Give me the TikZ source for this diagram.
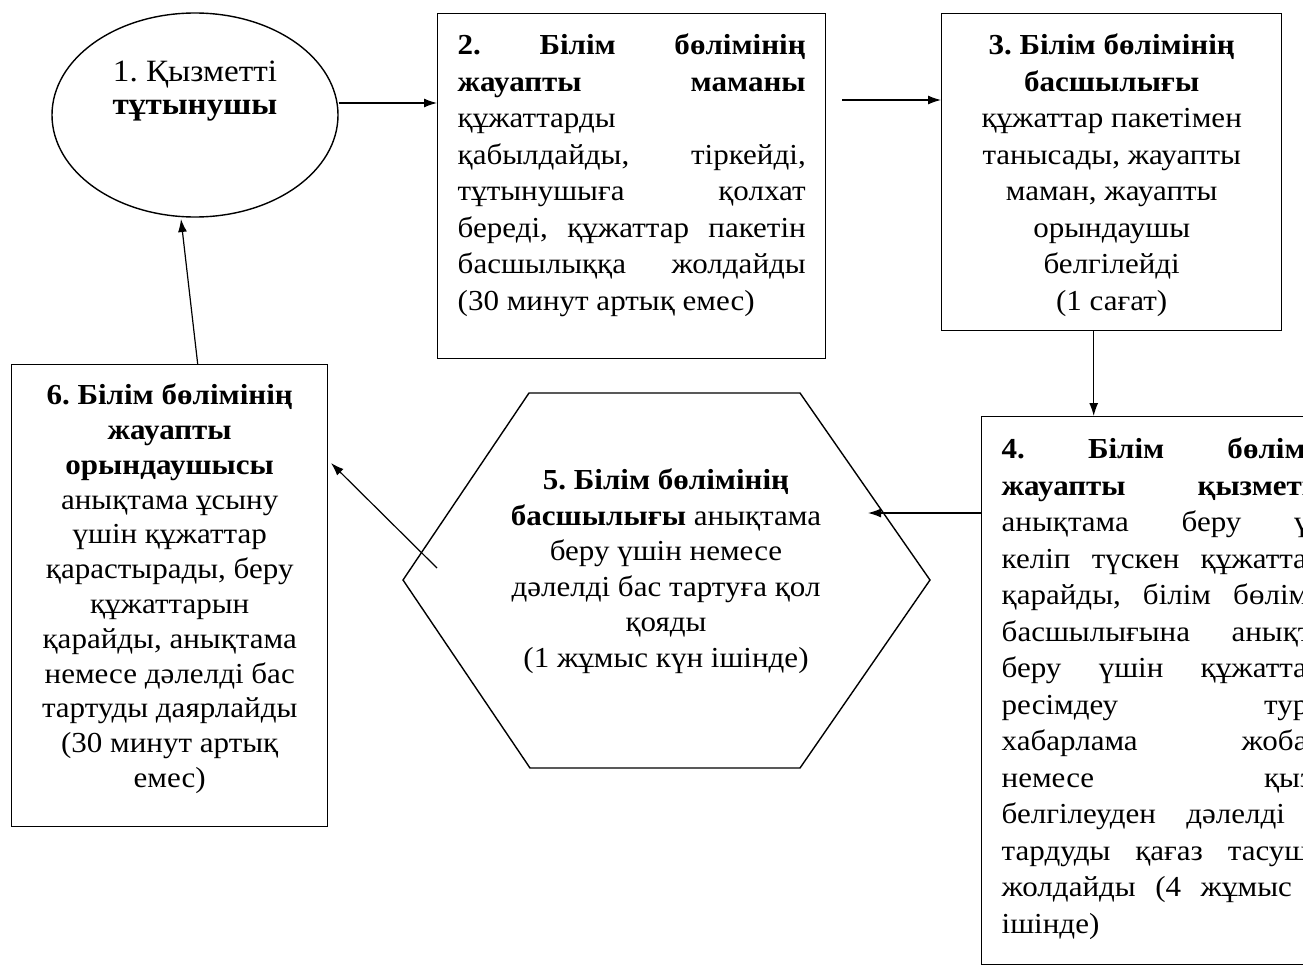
\documentclass[tikz,border=0pt]{standalone}
\usepackage{fontspec}
\setmainfont[FakeStretch=1.07]{Liberation Serif}
\usetikzlibrary{shapes.geometric,arrows.meta}
\frenchspacing
\begin{document}
\begin{tikzpicture}[x=1pt, y=-1pt, >={Latex[length=13pt,width=9pt]}, line width=1.2pt,
    stepbox/.style = {draw, line width=1.4pt, rectangle, anchor=north west, inner xsep=20pt, inner ysep=0pt, font=\fontsize{29}{36.5}\selectfont},
    clientbox/.style = {draw, line width=1.4pt, ellipse, minimum width=286pt, minimum height=204pt}]
        \useasboundingbox (0,0) rectangle (1303,966);
        \node[clientbox] (n1) at (195,115) {};
        \node[align=center, font=\fontsize{31}{33}\selectfont] (n1text) at (195,91) {1. Қызметті\\ \textbf{тұтынушы}};
        \node[stepbox] (n2) at (437,13) {\parbox[c][345pt][t]{348pt}{\rule{0pt}{41pt}\textbf{2. Білім бөлімінің}\linebreak
            \textbf{жауапты маманы}\linebreak құжаттарды\linebreak қабылдайды, тіркейді,\linebreak тұтынушыға қолхат\linebreak
            береді, құжаттар пакетін\linebreak басшылыққа жолдайды\linebreak (30 минут артық емес)}};
        \node[stepbox] (n3) at (941,13) {\parbox[c][317pt][t]{300pt}{\centering\rule{0pt}{41pt}\textbf{3. Білім бөлімінің}\\
            \textbf{басшылығы}\\ құжаттар пакетімен\\ танысады, жауапты\\ маман, жауапты\\ орындаушы\\ белгілейді\\ (1 сағат)}};
        \node[stepbox] (n4) at (981,416) {\parbox[c][548pt][t]{357pt}{\rule{0pt}{42pt}\textbf{4. Білім бөлімінің}\linebreak
            \textbf{жауапты қызметкері}\linebreak анықтама беру үшін\linebreak келіп түскен құжаттарды\linebreak
            қарайды, білім бөлімінің\linebreak басшылығына анықтама\linebreak беру үшін құжаттарды\linebreak
            ресімдеу туралы\linebreak хабарлама жобасын\linebreak немесе қызмет\linebreak белгілеуден дәлелді бас\linebreak
            тардуды қағаз тасушыда\linebreak жолдайды (4 жұмыс күн\linebreak ішінде)}};
        \node[stepbox, font=\fontsize{29}{34.8}\selectfont] (n6) at (11,364) {\parbox[c][462pt][t]{276pt}{\centering\rule{0pt}{40pt}\textbf{6. Білім бөлімінің}\\
            \textbf{жауапты}\\ \textbf{орындаушысы}\\ анықтама ұсыну\\ үшін құжаттар\\ қарастырады, беру\\ құжаттарын\\
            қарайды, анықтама\\ немесе дәлелді бас\\ тартуды даярлайды\\ (30 минут артық\\ емес)}};
        % hexagon
        \draw[line width=1.4pt] (529,393) -- (800,393) -- (930,580) -- (800,768) -- (530,768) -- (403,580) -- cycle;
        \node[align=center, font=\fontsize{29}{35.5}\selectfont] (n5) at (666,571) {\textbf{5. Білім бөлімінің}\\
            \textbf{басшылығы} анықтама\\ беру үшін немесе\\ дәлелді бас тартуға қол\\ қояды\\ (1 жұмыс күн ішінде)};
        \coordinate (c2out) at (842,100);
        \coordinate (h5in) at (868,513);
        \coordinate (h5out) at (437,568);
        \coordinate (c6in) at (331,463);
        \coordinate (c1in) at (181,219);
        \draw[->] (n1.east |- 0,103) -- (n2.west |- 0,103);
        \draw[->] (c2out) -- (n3.west |- c2out);
        \draw[->] ([xshift=-18pt]n3.south) -- ([xshift=-18pt]n3.south |- n4.north);
        \draw[->] (n4.west |- h5in) -- (h5in);
        \draw[->] (h5out) -- (c6in);
        \draw[->] ([xshift=28pt]n6.north) -- (c1in);
    \end{tikzpicture}
\end{document}
